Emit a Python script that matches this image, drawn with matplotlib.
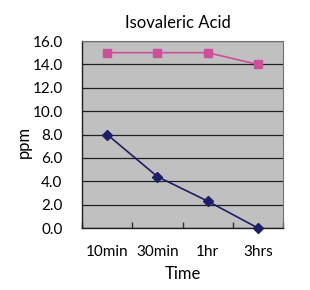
import numpy as np
import matplotlib
matplotlib.use('Agg')
import matplotlib.pyplot as plt

categories = ['10min', '30min', '1hr', '3hrs']
series_pink = [15.0, 15.0, 15.0, 14.0]
series_navy = [8.0, 4.4, 2.3, 0.0]
y_ticks = [0, 2, 4, 6, 8, 10, 12, 14, 16]

plt.rcParams['font.family'] = ['Lato', 'DejaVu Sans']

W, H = 310, 290
fig = plt.figure(figsize=(W / 100, H / 100), dpi=100)
ax = fig.add_axes([82 / W, 1 - 228 / H, (283 - 82) / W, (228 - 41) / H])
ax.set_facecolor('#c0c0c0')

x = np.arange(len(categories))
ax.plot(x, series_pink, color='#cc4f9a', marker='s', markersize=6, lw=1.2, zorder=3, clip_on=False)
ax.plot(x, series_navy, color='#1c1f66', marker='D', markersize=5, lw=1.2, zorder=3, clip_on=False)

ax.set_xlim(-0.5, len(categories) - 0.5)
ax.set_ylim(0, 16)
ax.set_yticks(y_ticks)
ax.set_yticklabels([f'{v:.1f}' for v in y_ticks])
ax.set_xticks(x)
ax.set_xticklabels(categories)
# excel-style category ticks between the labels
ax.set_xticks(np.arange(len(categories) + 1) - 0.5, minor=True)
ax.tick_params(axis='x', which='major', length=0, pad=12, labelsize=11)
ax.tick_params(axis='x', which='minor', direction='in', length=4, width=1, color='#303030')
ax.tick_params(axis='y', length=0, pad=14, labelsize=11)
ax.yaxis.grid(True, color='#202020', lw=0.9)
ax.set_axisbelow(True)

for s in ['top', 'right']:
    ax.spines[s].set_color('#707070')
    ax.spines[s].set_linewidth(0.8)
for s in ['left', 'bottom']:
    ax.spines[s].set_color('#202020')
    ax.spines[s].set_linewidth(1)

ax.set_title('Isovaleric Acid', fontsize=12, pad=9, x=0.478)
ax.set_xlabel('Time', fontsize=12, labelpad=5)
ax.set_ylabel('ppm', fontsize=12)
ax.yaxis.set_label_coords(-0.25, 0.46)

fig.savefig('out.png', dpi=100)
